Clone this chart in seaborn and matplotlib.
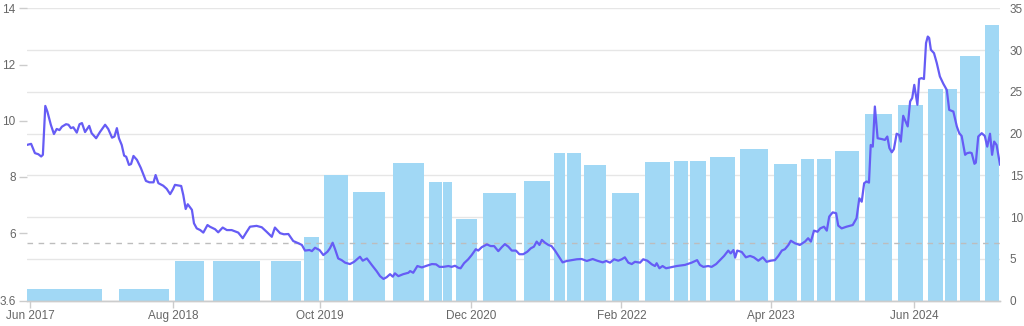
import numpy as np
import pandas as pd
import matplotlib
matplotlib.use("Agg")
import matplotlib.pyplot as plt
import matplotlib.dates as mdates
import seaborn as sns

BASE = pd.Timestamp("2017-06-01")

# ---- price line (left axis): days after 2017-06-01 and price ----
line_day = [-10, 3, 14, 24, 32, 37, 44, 50, 60, 69, 77, 85, 92, 104, 111, 118, 125, 135, 143, 150,
            159, 171, 178, 191, 202, 217, 226, 237, 244, 251, 257, 265, 272, 278, 286, 292, 299, 309, 320, 335,
            345, 357, 363, 371, 385, 395, 405, 413, 419, 437, 443, 450, 456, 468, 474, 482, 492, 501, 513, 520,
            535, 544, 557, 569, 583, 602, 615, 625, 636, 655, 670, 684, 699, 708, 723, 734, 747, 761, 776, 786,
            795, 808, 815, 824, 837, 848, 860, 867, 875, 882, 891, 901, 911, 925, 937, 954, 962, 974, 988, 1002,
            1012, 1022, 1031, 1041, 1049, 1055, 1065, 1079, 1094, 1099, 1108, 1120, 1133, 1147, 1162, 1174, 1184, 1195, 1210, 1219,
            1229, 1238, 1245, 1255, 1267, 1277, 1289, 1296, 1306, 1321, 1332, 1342, 1354, 1364, 1373, 1383, 1393, 1405, 1415, 1426,
            1438, 1448, 1457, 1465, 1473, 1480, 1489, 1499, 1508, 1518, 1528, 1540, 1552, 1566, 1581, 1595, 1610, 1627, 1640, 1656,
            1666, 1677, 1689, 1701, 1711, 1720, 1730, 1740, 1749, 1764, 1773, 1785, 1798, 1807, 1812, 1820, 1829, 1839, 1851, 1870,
            1894, 1913, 1929, 1937, 1947, 1961, 1971, 1984, 1995, 2007, 2019, 2026, 2034, 2039, 2045, 2058, 2070, 2082, 2093, 2106,
            2119, 2130, 2142, 2154, 2164, 2174, 2183, 2193, 2200, 2212, 2226, 2241, 2250, 2258, 2267, 2277, 2285, 2296, 2304, 2311,
            2321, 2331, 2337, 2347, 2361, 2379, 2390, 2398, 2405, 2412, 2419, 2426, 2431, 2437, 2443, 2451, 2463, 2472, 2479, 2485,
            2492, 2498, 2506, 2513, 2518, 2525, 2532, 2538, 2545, 2551, 2557, 2562, 2566, 2571, 2578, 2585, 2591, 2596, 2600, 2605,
            2614, 2622, 2631, 2641, 2651, 2658, 2670, 2680, 2687, 2694, 2704, 2710, 2718, 2723, 2731, 2735, 2742, 2752, 2761, 2768,
            2776, 2782, 2788, 2795, 2805]
line_price = [9.14, 9.18, 8.85, 8.81, 8.73, 8.79, 10.53, 10.33, 9.86, 9.53, 9.71, 9.67, 9.79, 9.88, 9.86, 9.74, 9.77, 9.58, 9.88, 9.92,
              9.60, 9.82, 9.56, 9.38, 9.60, 9.86, 9.71, 9.40, 9.44, 9.74, 9.38, 9.14, 8.76, 8.72, 8.43, 8.46, 8.75, 8.61, 8.33, 7.86,
              7.81, 7.81, 8.07, 7.78, 7.69, 7.58, 7.39, 7.56, 7.72, 7.68, 7.36, 6.86, 7.03, 6.83, 6.35, 6.17, 6.11, 6.02, 6.29, 6.23,
              6.14, 6.03, 6.20, 6.11, 6.11, 6.02, 5.82, 6.02, 6.23, 6.26, 6.21, 6.05, 5.87, 6.20, 6.00, 5.96, 5.97, 5.72, 5.64, 5.58,
              5.38, 5.40, 5.36, 5.48, 5.40, 5.22, 5.34, 5.46, 5.66, 5.43, 5.10, 5.04, 4.95, 4.90, 4.98, 5.16, 5.02, 5.10, 4.87, 4.65,
              4.47, 4.37, 4.43, 4.54, 4.45, 4.57, 4.47, 4.54, 4.59, 4.65, 4.59, 4.83, 4.78, 4.84, 4.90, 4.89, 4.80, 4.80, 4.83, 4.80,
              4.84, 4.77, 4.75, 4.93, 5.07, 5.22, 5.43, 5.38, 5.50, 5.60, 5.54, 5.54, 5.36, 5.50, 5.61, 5.52, 5.38, 5.38, 5.25, 5.25,
              5.34, 5.46, 5.52, 5.70, 5.58, 5.76, 5.66, 5.58, 5.54, 5.38, 5.19, 4.96, 5.01, 5.04, 5.07, 5.08, 5.01, 5.08, 5.02, 4.96,
              5.01, 4.95, 5.07, 5.02, 5.07, 5.14, 4.95, 4.90, 4.98, 4.95, 5.07, 5.02, 4.89, 4.83, 4.93, 4.75, 4.83, 4.75, 4.78, 4.83,
              4.87, 4.95, 5.04, 4.87, 4.80, 4.83, 4.80, 4.90, 5.04, 5.19, 5.38, 5.28, 5.40, 5.13, 5.38, 5.33, 5.14, 5.19, 5.14, 5.02,
              5.14, 4.98, 5.02, 5.04, 5.19, 5.38, 5.43, 5.58, 5.73, 5.64, 5.58, 5.70, 5.82, 5.70, 6.09, 6.05, 6.17, 6.23, 6.09, 6.59,
              6.74, 6.71, 6.27, 6.17, 6.23, 6.29, 6.53, 7.24, 7.12, 7.78, 7.84, 7.80, 9.14, 9.08, 10.51, 9.38, 9.35, 9.32, 9.44, 9.03,
              8.88, 8.99, 9.54, 9.50, 9.26, 10.18, 9.97, 9.80, 10.69, 10.81, 11.28, 10.89, 10.57, 11.49, 11.52, 11.49, 12.77, 13.00, 12.95, 12.53,
              12.41, 12.06, 11.58, 11.32, 11.10, 10.39, 10.33, 9.80, 9.56, 9.46, 8.79, 8.85, 8.87, 8.85, 8.47, 8.51, 9.44, 9.56, 9.46, 9.08,
              9.54, 8.79, 9.26, 9.14, 8.43]

# ---- period bars (right axis): start / end (days after 2017-06-01) and value ----
bar_start_day = [-10, 258, 420, 530, 696, 792, 849, 934, 1050, 1154, 1193, 1231, 1310, 1428, 1515, 1554, 1603,
                 1682, 1777, 1861, 1908, 1966, 2054, 2150, 2229, 2276, 2328, 2414, 2510, 2597, 2647, 2690, 2762]
bar_end_day = [209, 403, 504, 666, 784, 836, 918, 1026, 1139, 1190, 1220, 1293, 1405, 1504, 1547, 1592, 1666,
               1761, 1850, 1903, 1954, 2038, 2133, 2218, 2268, 2316, 2397, 2492, 2583, 2641, 2680, 2747, 2803]
bar_value = [1.34, 1.34, 4.73, 4.73, 4.70, 7.60, 15.1, 13.0, 16.5, 14.25, 14.25, 9.75, 12.85, 14.3, 17.7, 17.7, 16.25,
             12.9, 16.65, 16.75, 16.75, 17.25, 18.2, 16.4, 16.95, 16.95, 17.9, 22.35, 23.4, 25.3, 25.3, 29.3, 33.0]

reference_level = 5.64

tick_day = [0, 414, 839, 1276, 1710, 2142, 2557]
tick_label = ["Jun 2017", "Aug 2018", "Oct 2019", "Dec 2020", "Feb 2022", "Apr 2023", "Jun 2024"]
left_ticks = [3.6, 6, 8, 10, 12, 14]
left_tick_label = ["3.6", "6", "8", "10", "12", "14"]
right_ticks = [0, 5, 10, 15, 20, 25, 30, 35]

# ---- styling ----
sns.set_theme(style="white")
plt.rcParams["font.family"] = ["Liberation Sans", "DejaVu Sans"]

BAR_COLOR = "#a1d8f5"
LINE_COLOR = "#665cf5"
TEXT_COLOR = "#666666"
GRID_COLOR = "#e6e6e6"


def to_num(days):
    d = BASE + pd.to_timedelta(np.asarray(days, dtype=float), unit="D")
    return mdates.date2num(d.to_numpy())


fig = plt.figure(figsize=(10.24, 3.26), dpi=100)
ax = fig.add_axes([0.026, 0.078, 0.9506, 0.896])

starts = to_num(bar_start_day)
ends = to_num(bar_end_day)
ax.bar(starts, bar_value, width=ends - starts, align="edge", color=BAR_COLOR,
       linewidth=0, zorder=2)
ax.set_ylim(0, 35)
ax.set_yticks(right_ticks)
ax.yaxis.set_ticks_position("right")
ax.grid(axis="y", color=GRID_COLOR, linewidth=1, zorder=0)
ax.grid(axis="x", visible=False)
ax.set_axisbelow(True)

ax2 = ax.twinx()
line_dates = BASE + pd.to_timedelta(np.asarray(line_day, dtype=float), unit="D")
ax2.axhline(reference_level, color="#bdbdbd", linewidth=1, linestyle=(0, (4, 4)), zorder=3)
sns.lineplot(x=line_dates, y=line_price, ax=ax2, color=LINE_COLOR, linewidth=1.6, zorder=4)
ax2.set_ylim(3.6, 14)
ax2.set_yticks(left_ticks)
ax2.set_yticklabels(left_tick_label)
ax2.yaxis.set_ticks_position("left")
ax2.yaxis.set_label_position("left")
ax2.grid(False)

ax.set_xlim(to_num([-10])[0], to_num([2805])[0])
ax.set_xticks(to_num(tick_day))
ax.set_xticklabels(tick_label)

for a in (ax, ax2):
    for s in ("top", "left", "right"):
        a.spines[s].set_visible(False)
    a.spines["bottom"].set_color("#cccccc")
    a.spines["bottom"].set_linewidth(1)
    a.set_xlabel("")
    a.set_ylabel("")

ax.tick_params(axis="x", length=5, width=1, color="#cccccc", labelcolor=TEXT_COLOR,
               labelsize=8.5, pad=2, bottom=True)
ax.tick_params(axis="y", length=0, pad=7, labelcolor=TEXT_COLOR, labelsize=8.5,
               right=True, left=False, labelright=True, labelleft=False)
ax2.tick_params(axis="y", length=6, width=1, color="#cccccc", pad=2,
                labelcolor=TEXT_COLOR, labelsize=8.5, left=True, right=False,
                labelleft=True, labelright=False)

fig.savefig("out.png", dpi=100)
